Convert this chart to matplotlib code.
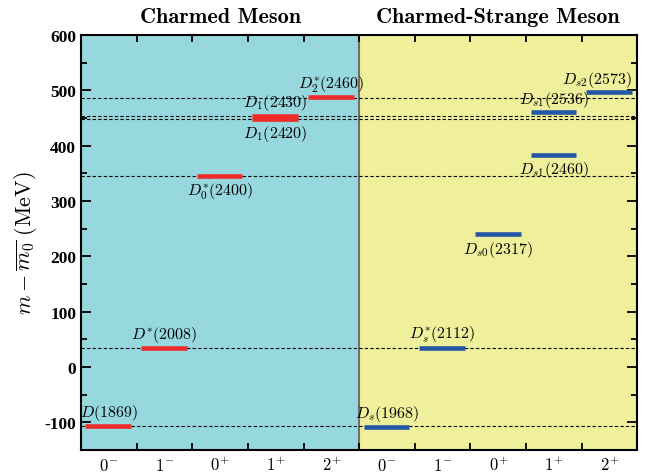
import numpy as np
import matplotlib
matplotlib.use("Agg")
import matplotlib.pyplot as plt
from matplotlib.ticker import MultipleLocator

plt.rcParams['mathtext.fontset'] = 'cm'
plt.rcParams['axes.unicode_minus'] = False

# Données
jp_labels = [r'$0^{-}$', r'$1^{-}$', r'$0^{+}$', r'$1^{+}$', r'$2^{+}$']

# mésons charmés
d_names = [r'$D(1869)$', r'$D^{*}(2008)$', r'$D_0^{*}(2400)$',
           r'$D_1(2420)$', r'$D_1(2430)$', r'$D_2^{*}(2460)$']
d_slot = [0, 1, 2, 3, 3, 4]
d_vals = [-106, 35, 345, 449, 454, 488]
d_side = ['up', 'up', 'down', 'down', 'up', 'up']

# mésons charmés-étranges
ds_names = [r'$D_s(1968)$', r'$D_s^{*}(2112)$', r'$D_{s0}(2317)$',
            r'$D_{s1}(2460)$', r'$D_{s1}(2536)$', r'$D_{s2}(2573)$']
ds_slot = [5, 6, 7, 8, 8, 9]
ds_vals = [-108, 35, 241, 384, 460, 497]
ds_side = ['up', 'up', 'down', 'down', 'up', 'up']

# lignes pointillées horizontales
ref_lines = [-106, 34, 345, 448.5, 453.5, 487]

fig = plt.figure(figsize=(6.5, 4.77), dpi=100)
ax = fig.add_axes([0.1246, 0.0545, 0.856, 0.870])

ax.axvspan(0, 5, color='#97D7DE', zorder=0)
ax.axvspan(5, 10, color='#F0EF9B', zorder=0)
ax.axvline(5, color='#6e6e6e', lw=1.5, zorder=1)

for v in ref_lines:
    ax.axhline(v, color='black', lw=0.8, ls=(0, (3, 2)), zorder=2)

def draw_levels(slots, vals, names, sides, color):
    for s, v, n, sd in zip(slots, vals, names, sides):
        ax.hlines(v, s + 0.08, s + 0.9, color=color, lw=3.3, zorder=3)
        xc = s + 0.5
        if n == r'$D_{s2}(2573)$':
            xc = s + 0.28
        if sd == 'up':
            ax.annotate(n, (xc, v), xytext=(0, 2.5), textcoords='offset points',
                        ha='center', va='bottom', fontsize=11.5)
        else:
            ax.annotate(n, (xc, v), xytext=(0, -3.5), textcoords='offset points',
                        ha='center', va='top', fontsize=11.5)

draw_levels(d_slot, d_vals, d_names, d_side, '#EE2A2A')
draw_levels(ds_slot, ds_vals, ds_names, ds_side, '#2456A6')

ax.set_xlim(0, 10)
ax.set_ylim(-150, 600)

ax.xaxis.set_major_locator(MultipleLocator(2))
ax.xaxis.set_minor_locator(MultipleLocator(1))
ax.set_xticklabels([])
for i, lab in enumerate(jp_labels * 2):
    ax.text(i + 0.5, -0.014, lab, transform=ax.get_xaxis_transform(),
            ha='center', va='top', fontsize=12)

ax.yaxis.set_major_locator(MultipleLocator(100))
ax.yaxis.set_minor_locator(MultipleLocator(50))
yt = np.arange(-100, 601, 100)
ax.set_yticks(yt)
ax.set_yticklabels([str(t) for t in yt], fontname='Liberation Serif',
                   fontweight='bold', fontsize=12.5)

ax.tick_params(which='both', direction='in', top=True, right=True, width=1.3)
ax.tick_params(which='major', length=7)
ax.tick_params(which='minor', length=4.5)
ax.tick_params(axis='x', which='both', length=5)
for sp in ax.spines.values():
    sp.set_linewidth(1.5)

ax.set_ylabel(r'$m-\overline{m_0}\ (\mathrm{MeV})$', fontsize=16, labelpad=4)

ax.text(2.5, 1.031, 'Charmed Meson', transform=ax.get_xaxis_transform(),
        ha='center', va='baseline', fontname='cmb10', fontsize=16)
ax.text(7.5, 1.031, 'Charmed-Strange Meson', transform=ax.get_xaxis_transform(),
        ha='center', va='baseline', fontname='cmb10', fontsize=16)

fig.savefig('out.png', dpi=100)
